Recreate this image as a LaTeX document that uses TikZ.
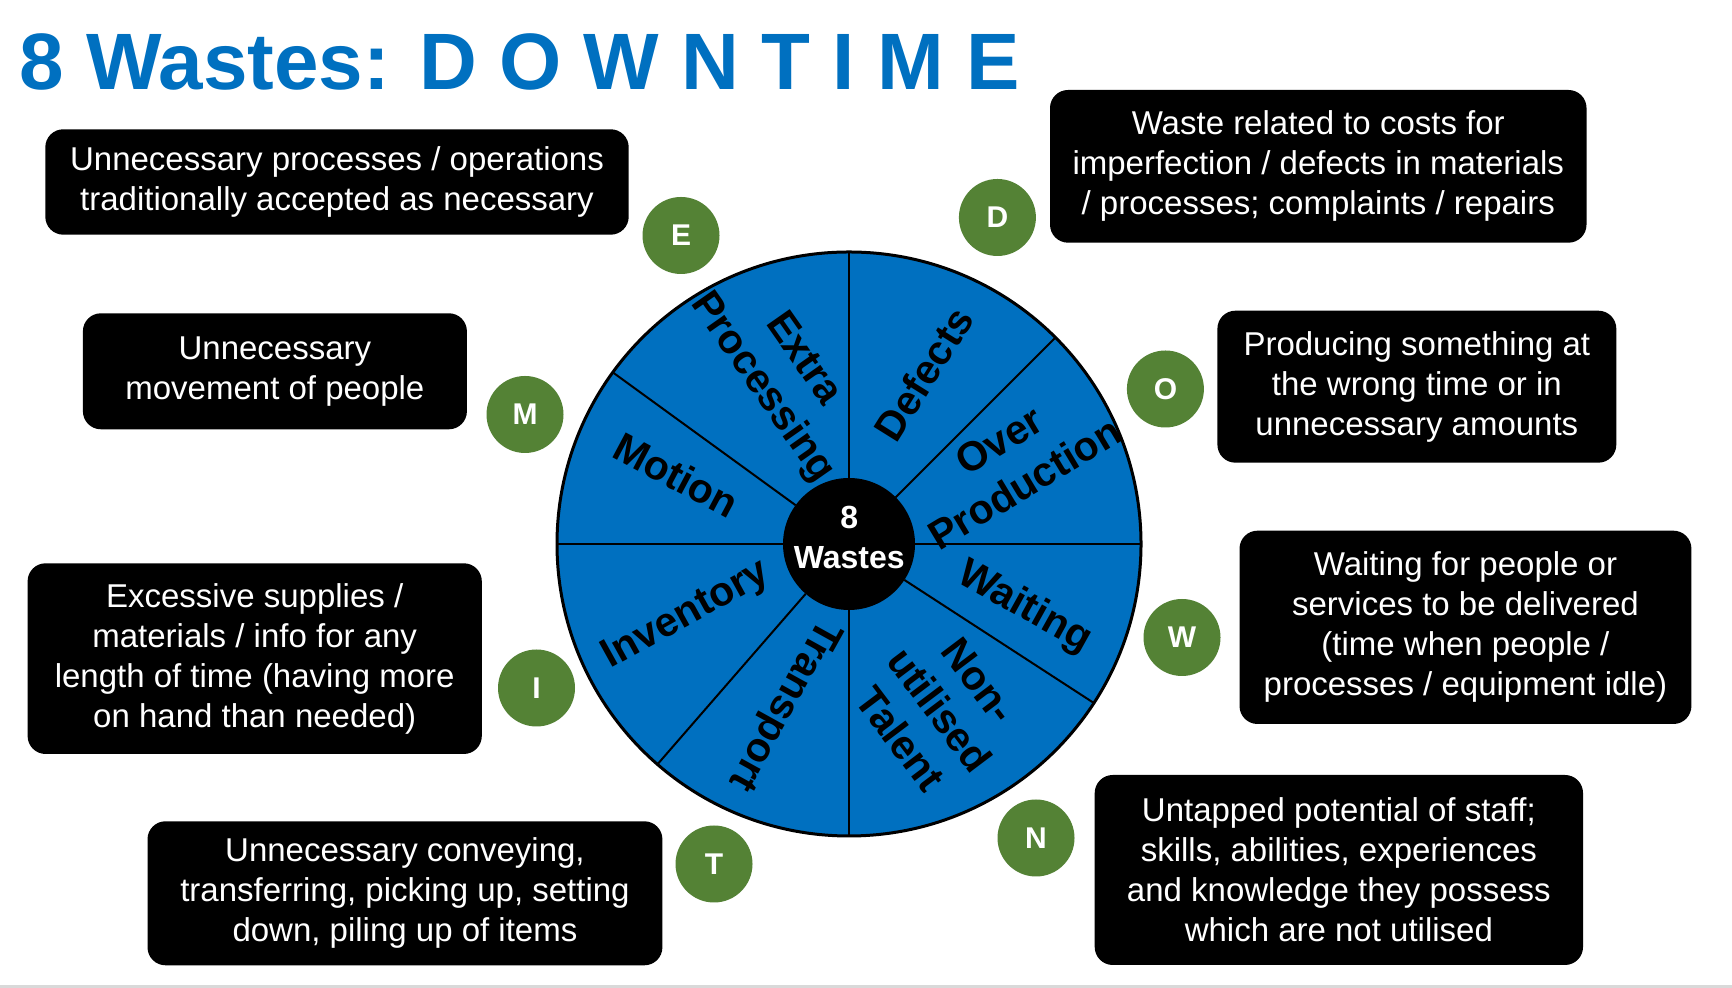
\documentclass[tikz,border=0pt]{standalone}
\usepackage{fontspec}
\setmainfont{Liberation Sans}
\definecolor{titleblue}{HTML}{0070C0}
\definecolor{wheelblue}{HTML}{0070C0}
\definecolor{leafgreen}{HTML}{548235}
\begin{document}
\begin{tikzpicture}[x=0.5pt,y=0.5pt,
  descbox/.style={fill=black, rounded corners=9pt, text=white, align=center, inner sep=0pt, font=\fontsize{16.5}{20}\selectfont},
  letterdot/.style={circle, fill=leafgreen, minimum size=38.5pt, inner sep=0pt, text=white, font=\bfseries\fontsize{15}{18}\selectfont},
  seglabel/.style={align=center, text=black, inner sep=0pt, font=\bfseries\fontsize{20.5}{25}\selectfont},
  spoke/.style={line width=1pt, black}]
\useasboundingbox (0,0) rectangle (1732,988);
\fill[white] (0,0) rectangle (1732,988);
\fill[gray!30] (0,0) rectangle (1732,2.5);

% title
\node[anchor=base west, inner sep=0pt, text=titleblue, font=\bfseries\fontsize{40}{48}\selectfont] (title) at (19,898) {8 Wastes: D O W N T I M E};

% wheel
\coordinate (c) at (849,444);
\fill[wheelblue] (c) circle[radius=146pt];
\foreach \a in {90,45,0,-33,-90,-131,180,144}
  \draw[spoke] (c) ++(\a:66) -- ++(\a:226);
\node[circle, fill=black, minimum size=66pt, inner sep=0pt] (hub) at (c) {};
\draw[line width=1.5pt] (c) circle[radius=146pt];
\node[align=center, text=white, inner sep=0pt, font=\bfseries\fontsize{16}{19.75}\selectfont] (hubtext) at (849.3,450.4) {8\\Wastes};

% segment labels
\node[seglabel, rotate=-55] (lE) at (782,614) {Extra\\Processing};
\node[seglabel, rotate=-28] (lM) at (676.5,513) {Motion};
\node[seglabel, rotate=58] (lD) at (923.7,614) {Defects};
\node[seglabel, rotate=31] (lO) at (1012,526) {Over\\Production};
\node[seglabel, rotate=-29] (lW) at (1024.5,380.4) {Waiting};
\node[seglabel, rotate=-53, font=\bfseries\fontsize{20.5}{24.5}\selectfont] (lN) at (939.5,278) {Non-\\utilised\\Talent};
\node[seglabel, rotate=-119] (lT) at (783.3,283.5) {Transport};
\node[seglabel, rotate=29] (lI) at (686.4,372.5) {Inventory};

% letter dots
\node[letterdot] (dE) at (681,752.5) {E};
\node[letterdot] (dM) at (525,573.5) {M};
\node[letterdot] (dD) at (997.4,770.5) {D};
\node[letterdot] (dO) at (1165.4,599) {O};
\node[letterdot] (dI) at (536.5,300) {I};
\node[letterdot] (dT) at (714,124) {T};
\node[letterdot] (dW) at (1182,350.5) {W};
\node[letterdot] (dN) at (1036,150) {N};

% description boxes
\node[descbox, minimum width=291.7pt, minimum height=52.7pt] (bE) at (337,806)
  {Unnecessary processes / operations\\traditionally accepted as necessary};
\node[descbox, minimum width=192pt, minimum height=58pt] (bM) at (274.9,616.7)
  {Unnecessary\\movement of people};
\node[descbox, minimum width=268.25pt, minimum height=76.35pt] (bD) at (1318.25,821.65)
  {Waste related to costs for\\imperfection / defects in materials\\/ processes; complaints / repairs};
\node[descbox, minimum width=199.45pt, minimum height=76pt] (bO) at (1416.85,601.3)
  {Producing something at\\the wrong time or in\\unnecessary amounts};
\node[descbox, minimum width=227.1pt, minimum height=95.35pt] (bI) at (254.7,329.35)
  {Excessive supplies /\\materials / info for any\\length of time (having more\\on hand than needed)};
\node[descbox, minimum width=257.45pt, minimum height=72pt] (bT) at (404.95,94.7)
  {Unnecessary conveying,\\transferring, picking up, setting\\down, piling up of items};
\node[descbox, minimum width=225.95pt, minimum height=96.65pt] (bW) at (1465.45,360.65)
  {Waiting for people or\\services to be delivered\\(time when people /\\processes / equipment idle)};
\node[descbox, minimum width=244.15pt, minimum height=95pt] (bN) at (1338.85,118)
  {Untapped potential of staff;\\skills, abilities, experiences\\and knowledge they possess\\which are not utilised};
\end{tikzpicture}
\end{document}
